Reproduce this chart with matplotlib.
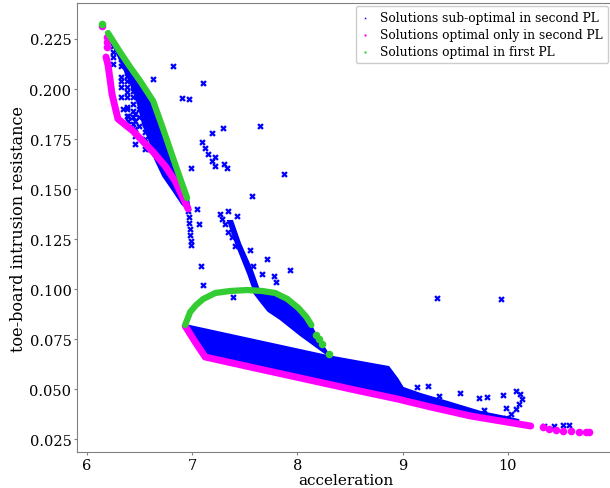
import matplotlib
matplotlib.use('Agg')
import matplotlib.pyplot as plt
import numpy as np

# ---- data (acceleration, toe-board intrusion resistance) ----

# optimal in first PL (green)
first_top_acc = [6.140]
first_top_res = [0.2325]
first_trace1_acc = [6.200, 6.314, 6.410, 6.505, 6.629, 6.724, 6.838, 6.895, 6.952]
first_trace1_res = [0.228, 0.2185, 0.211, 0.204, 0.194, 0.180, 0.1625, 0.154, 0.1455]
first_arch_acc = [6.933, 6.981, 7.038, 7.105, 7.219, 7.362, 7.524, 7.667, 7.790, 7.905, 8.010, 8.086, 8.133]
first_arch_res = [0.082, 0.0885, 0.092, 0.095, 0.098, 0.099, 0.0995, 0.099, 0.098, 0.095, 0.0905, 0.086, 0.082]
first_dots_acc = [8.181, 8.210, 8.238, 8.305]
first_dots_res = [0.077, 0.075, 0.0725, 0.0675]

# optimal only in second PL (magenta)
second_dots_acc = [6.140, 6.19, 6.19, 6.19, 10.333, 10.39, 10.457, 10.524, 10.60, 10.676, 10.743, 10.77]
second_dots_res = [0.2315, 0.226, 0.2235, 0.221, 0.031, 0.030, 0.0295, 0.029, 0.029, 0.0285, 0.0285, 0.0285]
second_trace1_acc = [6.181, 6.200, 6.219, 6.238, 6.267, 6.295, 6.438, 6.629, 6.743, 6.838, 6.914, 6.962]
second_trace1_res = [0.216, 0.212, 0.205, 0.1975, 0.191, 0.185, 0.179, 0.1685, 0.1615, 0.154, 0.1455, 0.140]
second_trace2_acc = [6.933, 7.029, 7.124, 7.552, 8.029, 8.505, 8.952, 9.267, 9.648, 9.933, 10.219]
second_trace2_res = [0.0815, 0.0735, 0.066, 0.061, 0.0555, 0.050, 0.045, 0.041, 0.0365, 0.034, 0.0315]

# sub-optimal in second PL (blue): dense zones given by their outlines
sub_zone_a_acc = [6.200, 6.314, 6.410, 6.505, 6.629, 6.724, 6.838, 6.895, 6.962, 6.981,
                  6.905, 6.81, 6.724, 6.648, 6.6, 6.533, 6.486, 6.419, 6.352, 6.276, 6.219]
sub_zone_a_res = [0.227, 0.2175, 0.2105, 0.2035, 0.1935, 0.1795, 0.162, 0.1535, 0.1445, 0.139,
                  0.1425, 0.15, 0.1565, 0.165, 0.1735, 0.1825, 0.1925, 0.2025, 0.21, 0.219, 0.225]
sub_zone_b_acc = [7.343, 7.419, 7.533, 7.59, 7.638, 7.571, 7.457, 7.381]
sub_zone_b_res = [0.134, 0.1225, 0.1075, 0.099, 0.099, 0.109, 0.1225, 0.134]
sub_zone_c_acc = [7.61, 7.667, 7.79, 7.905, 8.01, 8.086, 8.133, 8.181, 8.238, 8.305,
                  8.238, 8.029, 7.838, 7.724, 7.648, 7.59]
sub_zone_c_res = [0.0995, 0.099, 0.0975, 0.0945, 0.090, 0.0855, 0.0815, 0.0765, 0.072, 0.0665,
                  0.069, 0.077, 0.085, 0.089, 0.094, 0.098]
sub_zone_d_acc = [6.933, 8.286, 8.867, 8.952, 9.01, 9.076, 9.029, 8.952, 8.505, 8.029, 7.552, 7.124, 6.933]
sub_zone_d_res = [0.082, 0.0665, 0.061, 0.055, 0.050, 0.047, 0.0445, 0.045, 0.050, 0.0555, 0.061, 0.066, 0.0815]
sub_zone_e_acc = [8.981, 9.171, 9.429, 9.743, 9.981, 10.1, 10.1, 9.981, 9.743, 9.429, 9.171, 8.981]
sub_zone_e_res = [0.051, 0.0475, 0.0435, 0.0385, 0.036, 0.0345, 0.0325, 0.0335, 0.036, 0.040, 0.043, 0.046]

# sub-optimal in second PL (blue): single points
sub_acc = [
    # columns inside the upper branch
    6.248, 6.248, 6.248, 6.248,
    6.324, 6.324, 6.324, 6.324, 6.324, 6.324,
    6.381, 6.381, 6.381, 6.381, 6.381, 6.381, 6.381, 6.381, 6.381,
    6.343, 6.390, 6.390,
    6.438, 6.438, 6.438, 6.438, 6.438, 6.438, 6.438,
    6.495, 6.495, 6.495, 6.495, 6.495,
    6.457, 6.457, 6.457, 6.457, 6.457,
    6.552, 6.552, 6.552, 6.552, 6.552, 6.6, 6.648,
    # vertical tail
    6.962, 6.971, 6.971, 6.981, 6.981, 6.99, 6.99,
    # scattered
    6.819, 6.629, 7.105, 6.905, 6.971, 7.648, 7.295, 7.19, 6.99, 7.305, 7.333, 7.571, 7.876,
    7.095, 7.124, 7.152, 7.219, 7.19, 7.219, 7.048, 7.067, 7.267, 7.286, 7.314, 7.343, 7.429,
    7.343, 7.381, 7.41, 7.552, 7.714, 7.581, 7.667, 7.781, 7.8, 7.933, 7.086, 7.105, 7.39,
    9.324, 9.933,
    # right tail
    9.981, 10.029, 10.076, 10.105, 10.133, 10.114, 10.076,
    10.343, 10.438, 10.524, 10.581,
    9.133, 9.238, 9.343, 9.543, 9.724, 9.8, 9.952, 9.771, 9.981,
]
sub_res = [
    0.2215, 0.2185, 0.216, 0.2125,
    0.215, 0.2115, 0.206, 0.204, 0.201, 0.196,
    0.209, 0.2065, 0.204, 0.201, 0.1985, 0.196, 0.191, 0.19, 0.1865,
    0.19, 0.1865, 0.184,
    0.2015, 0.199, 0.196, 0.1925, 0.189, 0.186, 0.1825,
    0.1975, 0.194, 0.19, 0.186, 0.1815,
    0.1875, 0.184, 0.18, 0.1765, 0.1725,
    0.1865, 0.1825, 0.1785, 0.175, 0.17, 0.17, 0.1675,
    0.139, 0.136, 0.133, 0.130, 0.127, 0.124, 0.122,
    0.2115, 0.205, 0.203, 0.1955, 0.195, 0.1815, 0.1805, 0.178, 0.1605, 0.1625, 0.1605, 0.1465, 0.1575,
    0.1735, 0.1705, 0.1675, 0.166, 0.164, 0.1615, 0.14, 0.1325, 0.1375, 0.135, 0.1325, 0.139, 0.1365,
    0.1285, 0.126, 0.1215, 0.1195, 0.115, 0.1115, 0.1075, 0.1065, 0.1035, 0.1095, 0.1115, 0.102, 0.096,
    0.0955, 0.095,
    0.0355, 0.0375, 0.040, 0.0425, 0.045, 0.0475, 0.049,
    0.0315, 0.0315, 0.032, 0.032,
    0.051, 0.0515, 0.0465, 0.048, 0.0455, 0.046, 0.047, 0.0395, 0.0405,
]

x_ticks = [6, 7, 8, 9, 10]
y_ticks = [0.025, 0.050, 0.075, 0.100, 0.125, 0.150, 0.175, 0.200, 0.225]

BLUE = '#0000ff'
MAGENTA = '#ff00ff'
GREEN = '#33cc33'

plt.rcParams['font.family'] = 'DejaVu Serif'

fig = plt.figure(figsize=(6.1, 4.89), dpi=100)
ax = fig.add_axes([0.1262, 0.0736, 0.8803, 0.9172])

# blue: sub-optimal
for zx, zy in [(sub_zone_a_acc, sub_zone_a_res), (sub_zone_b_acc, sub_zone_b_res),
               (sub_zone_c_acc, sub_zone_c_res), (sub_zone_d_acc, sub_zone_d_res),
               (sub_zone_e_acc, sub_zone_e_res)]:
    ax.fill(zx, zy, color=BLUE, lw=1.5, zorder=1)
ax.scatter(sub_acc, sub_res, marker='X', s=22, color=BLUE, linewidths=0, zorder=2,
           label='Solutions sub-optimal in second PL')

# magenta: optimal only in second PL
for tx, ty in [(second_trace1_acc, second_trace1_res), (second_trace2_acc, second_trace2_res)]:
    ax.plot(tx, ty, color=MAGENTA, lw=5, solid_capstyle='round', zorder=3)
ax.scatter(second_dots_acc, second_dots_res, marker='o', s=30, color=MAGENTA, linewidths=0, zorder=3,
           label='Solutions optimal only in second PL')

# green: optimal in first PL
for tx, ty in [(first_trace1_acc, first_trace1_res), (first_arch_acc, first_arch_res)]:
    ax.plot(tx, ty, color=GREEN, lw=4.5, solid_capstyle='round', zorder=4)
ax.scatter(first_top_acc + first_dots_acc, first_top_res + first_dots_res, marker='o', s=30,
           color=GREEN, linewidths=0, zorder=4, label='Solutions optimal in first PL')

ax.set_xlim(5.905, 11.01)
ax.set_ylim(0.0185, 0.24275)
ax.set_xticks(x_ticks)
ax.set_yticks(y_ticks)
ax.set_yticklabels(['%.3f' % v for v in y_ticks])
ax.tick_params(labelsize=10.5, color='gray', length=2.5, pad=1.5)
for sp in ax.spines.values():
    sp.set_color('gray')
ax.set_xlabel('acceleration', fontsize=11, labelpad=1)
ax.set_ylabel('toe-board intrusion resistance', fontsize=11.5, labelpad=2)

ax.legend(loc='upper left', bbox_to_anchor=(356 / 610, 1 - 7 / 489), bbox_transform=fig.transFigure,
          fontsize=8.8, markerscale=0.3, handlelength=0.6, handletextpad=1.0, labelspacing=0.35,
          borderaxespad=0, framealpha=1)

fig.savefig('out.png', dpi=100)
